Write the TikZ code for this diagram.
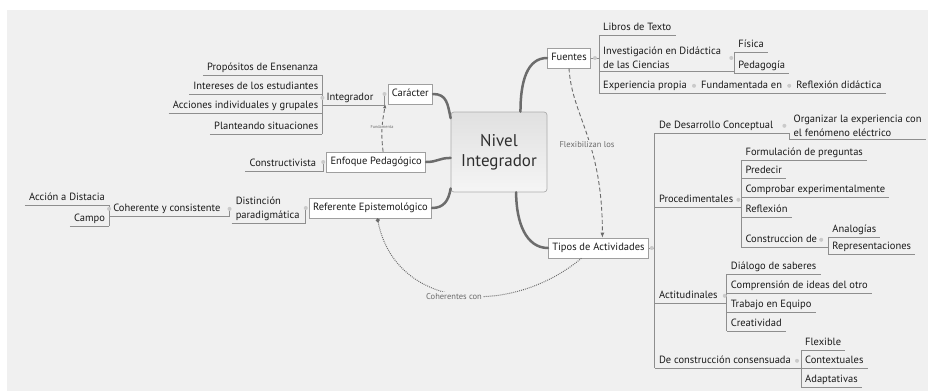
\documentclass[tikz,border=0pt]{standalone}
\usepackage{fontspec}
\setmainfont{PT Sans}
\usepackage{tikz}
\usetikzlibrary{arrows.meta,calc,positioning}
\definecolor{bgc}{HTML}{F0F0F0}
\definecolor{linec}{HTML}{8E8E8E}
\definecolor{trunkc}{HTML}{6C6C6C}
\definecolor{txtc}{HTML}{1A1A1A}
\definecolor{knobc}{HTML}{CACACA}
\definecolor{relc}{HTML}{6A6A6A}
\tikzset
{
  uline/.style={draw=linec,line width=.8pt},
  topic/.style={font=\fontsize{10.5}{12.6}\selectfont,text=txtc,inner xsep=4pt,inner ysep=2pt,
    text height=1.55ex,text depth=.45ex,
    append after command={(\tikzlastnode.south west) edge[uline] (\tikzlastnode.south east)}},
  topictwo/.style={font=\fontsize{10.5}{14}\selectfont,text=txtc,inner xsep=4pt,inner ysep=2pt,align=left,
    append after command={(\tikzlastnode.south west) edge[uline] (\tikzlastnode.south east)}},
  box/.style={draw=gray!75,fill=white,line width=.6pt,font=\fontsize{10.5}{12.6}\selectfont,text=txtc,
    inner xsep=4pt,minimum height=20pt,text height=1.55ex,text depth=.45ex},
  hub/.style={draw=gray!65,line width=.7pt,rounded corners=3pt,top color=black!12,bottom color=black!4,
    minimum width=96pt,minimum height=80pt,align=center,font=\fontsize{17}{20}\selectfont,text=black!82},
  trunk/.style={draw=trunkc,line width=2.5pt,line cap=round},
  knob/.style={circle,fill=knobc,inner sep=0pt,minimum size=4pt},
  rel/.style={draw=relc,line width=.9pt,dash pattern=on 4pt off 2.5pt},
  assoc/.style={draw=relc,line width=1pt,dash pattern=on .9pt off 1.1pt},
  lbl/.style={fill=bgc,text=relc,font=\fontsize{8.5}{10}\selectfont,inner sep=1.5pt},
  lbltiny/.style={fill=bgc,text=relc,font=\fontsize{4.3}{5}\selectfont,inner sep=.8pt}
}

\begin{document}
\begin{tikzpicture}[x=1pt,y=-1pt]
        % Frame
        \useasboundingbox (0,0) rectangle (928,391);
        \fill[white] (0,0) rectangle (928,391);
        \fill[bgc] (7,10) rectangle (928,391);

        % Central topic
        \node[hub] (nivel) at (499,152) {Nivel\\Integrador};

        % Main branches
        \node[box,anchor=east] (caracter) at (433,94) {Carácter};
        \node[box,anchor=east] (enfoque) at (426,162) {Enfoque Pedagógico};
        \node[box,anchor=east] (referente) at (432,208) {Referente Epistemológico};
        \node[box,anchor=west] (fuentes) at (547,58) {Fuentes};
        \node[box,anchor=west] (tipos) at (548,248) {Tipos de Actividades};

        \draw[trunk] (caracter.east) .. controls +(14,0) and +(-3,-14) .. (nivel.145);
        \draw[trunk] (enfoque.east) .. controls +(12,0) and +(-12,0) .. (nivel.187);
        \draw[trunk] (referente.east) .. controls +(12,0) and +(-2,12) .. (nivel.217);
        \draw[trunk] (fuentes.west) .. controls +(-20,0) and +(0,-30) .. (nivel.62);
        \draw[trunk] (tipos.west) .. controls +(-22,0) and +(0,30) .. (nivel.293);

        % Caracter
        \node[topic,anchor=south east] (integ) at ([xshift=-10pt]caracter.west |- 0,105) {Integrador};
        \node[topic,anchor=south east] (propos) at (integ.south west |- 0,75) {Propósitos de Ensenanza};
        \node[topic,anchor=south east] (inter) at (integ.south west |- 0,94) {Intereses de los estudiantes};
        \node[topic,anchor=south east] (acciones) at (integ.south west |- 0,113) {Acciones individuales y grupales};
        \node[topic,anchor=south east] (plante) at (integ.south west |- 0,134) {Planteando situaciones};
        \draw[uline] (propos.south east) -- (plante.south east);
        \draw[uline] ([xshift=-3pt]caracter.west) |- (integ.south east);
        \node[knob] (cknob) at ([xshift=-3pt]caracter.west) {};
        \node[knob] (iknob) at (integ.west) {};

        % Enfoque
        \node[topic,anchor=south east] (constr) at ([xshift=-6pt]enfoque.west |- 0,171) {Constructivista};
        \draw[uline] ([xshift=-3pt]enfoque.west) |- (constr.south east);
        \node[knob] (eknob) at ([xshift=-3pt]enfoque.west) {};

        % Referente
        \node[topictwo,anchor=south east] (distin) at ([xshift=-5pt]referente.west |- 0,223) {Distinción\\paradigmática};
        \node[topic,anchor=south east] (coher) at ([xshift=-7pt]distin.west |- 0,216) {Coherente y consistente};
        \node[topic,anchor=south east] (accion) at (coher.south west |- 0,205) {Acción a Distacia};
        \node[topic,anchor=south east] (campo) at (coher.south west |- 0,226) {Campo};
        \draw[uline] (accion.south east) -- (campo.south east);
        \draw[uline] ([xshift=-2pt]distin.west) |- (coher.south east);
        \draw[uline] ([xshift=-3pt]referente.west) |- (distin.south east);
        \node[knob] (rknob) at ([xshift=-3pt]referente.west) {};
        \node[knob] (dknob) at ([xshift=-2pt]distin.west) {};
        \node[knob] (hknob) at (coher.west) {};

        % Fuentes
        \coordinate (fbr) at ([xshift=8pt]fuentes.east);
        \node[topic,anchor=south west] (libros) at (fbr |- 0,35) {Libros de Texto};
        \node[topictwo,anchor=south west] (invest) at (fbr |- 0,71) {Investigación en Didáctica\\de las Ciencias};
        \node[topic,anchor=south west] (exper) at (fbr |- 0,93) {Experiencia propia};
        \node[topic,anchor=south west] (fundam) at ([xshift=6pt]exper.south east) {Fundamentada en};
        \node[topic,anchor=south west] (reflexd) at ([xshift=6pt]fundam.south east) {Reflexión didáctica};
        \node[topic,anchor=south west] (fisica) at ([xshift=9pt]invest.south east |- 0,52) {Física};
        \node[topic,anchor=south west] (pedago) at (fisica.south west |- 0,73) {Pedagogía};
        \draw[uline] (libros.south west) -- (exper.south west);
        \draw[uline] (fuentes.east) -- (fbr);
        \draw[uline] (exper.south east) -- (fundam.south west);
        \draw[uline] (fundam.south east) -- (reflexd.south west);
        \draw[uline] (invest.south east) -- (fisica.south west |- invest.south east);
        \draw[uline] (fisica.south west) -- (pedago.south west);
        \node[knob] (fknob) at ([xshift=4pt]fuentes.east) {};
        \node[knob] (vknob) at ([xshift=6pt]invest.east) {};
        \node[knob] (xknob) at ([xshift=3pt]exper.east) {};
        \node[knob] (uknob) at ([xshift=3pt]fundam.east) {};

        % Tipos de actividades
        \coordinate (tbr) at ([xshift=6pt]tipos.east);
        \node[topic,anchor=south west] (desconc) at (tbr |- 0,133) {De Desarrollo Conceptual};
        \node[topic,anchor=south west] (proced) at (tbr |- 0,207) {Procedimentales};
        \node[topic,anchor=south west] (actitud) at (tbr |- 0,303) {Actitudinales};
        \node[topic,anchor=south west] (consens) at (tbr |- 0,368) {De construcción consensuada};
        \draw[uline] (desconc.south west) -- (consens.south west);
        \draw[uline] (tipos.east) -- (tbr);
        \node[knob] (tknob) at ([xshift=3pt]tipos.east) {};

        % De desarrollo conceptual
        \node[topictwo,anchor=south west] (organ) at ([xshift=12pt]desconc.south east |- 0,139) {Organizar la experiencia con\\el fenómeno eléctrico};
        \draw[uline] (desconc.south east) -| (organ.south west);
        \node[knob] (oknob) at ([xshift=7pt]desconc.east) {};

        % Procedimentales
        \node[topic,anchor=south west] (formul) at ([xshift=4pt]proced.south east |- 0,160) {Formulación de preguntas};
        \node[topic,anchor=south west] (predec) at (formul.south west |- 0,178) {Predecir};
        \node[topic,anchor=south west] (comprob) at (formul.south west |- 0,197) {Comprobar experimentalmente};
        \node[topic,anchor=south west] (reflex) at (formul.south west |- 0,217) {Reflexión};
        \node[topic,anchor=south west] (constde) at (formul.south west |- 0,247) {Construccion de};
        \node[topic,anchor=south west] (analog) at ([xshift=7pt]constde.south east |- 0,237) {Analogías};
        \node[topic,anchor=south west] (repres) at (analog.south west |- 0,254) {Representaciones};
        \draw[uline] (formul.south west) -- (constde.south west);
        \draw[uline] (proced.south east) -- (formul.south west |- proced.south east);
        \draw[uline] (analog.south west) -- (repres.south west);
        \draw[uline] (constde.south east) -- (analog.south west |- constde.south east);
        \node[knob] (pknob) at ([xshift=1pt]proced.east) {};
        \node[knob] (sknob) at (constde.east) {};

        % Actitudinales
        \node[topic,anchor=south west] (dialog) at ([xshift=5pt]actitud.south east |- 0,274) {Diálogo de saberes};
        \node[topic,anchor=south west] (compren) at (dialog.south west |- 0,293) {Comprensión de ideas del otro};
        \node[topic,anchor=south west] (trabajo) at (dialog.south west |- 0,312) {Trabajo en Equipo};
        \node[topic,anchor=south west] (creativ) at (dialog.south west |- 0,331) {Creatividad};
        \draw[uline] (dialog.south west) -- (creativ.south west);
        \draw[uline] (actitud.south east) -- (dialog.south west |- actitud.south east);
        \node[knob] (aknob) at ([xshift=3pt]actitud.east) {};

        % De construccion consensuada
        \node[topic,anchor=south west] (flexib) at ([xshift=6pt]consens.south east |- 0,350) {Flexible};
        \node[topic,anchor=south west] (context) at (flexib.south west |- 0,368) {Contextuales};
        \node[topic,anchor=south west] (adapt) at (flexib.south west |- 0,387) {Adaptativas};
        \draw[uline] (flexib.south west) -- (adapt.south west);
        \draw[uline] (consens.south east) -- (flexib.south west |- consens.south east);
        \node[knob] (nknob) at ([xshift=2pt]consens.east) {};

        % Relations
        \draw[rel,-{Latex[length=4pt,width=3.5pt]}] ([xshift=7pt]enfoque.north) .. controls +(-3,-24) and +(-2,14) .. ([xshift=-25pt]caracter.south);
        \node[lbltiny] (lfund) at (382,127) {Fundamenta};
        \draw[rel,-{Latex[length=5pt,width=4pt]}] (fuentes.south) .. controls +(3,48) and +(0,-97) .. ([xshift=4pt]tipos.north);
        \node[lbl] (lflex) at (587,145) {Flexibilizan los};
        \draw[assoc,{Circle[length=4pt,sep=0pt]}-] ([xshift=7pt]referente.south) .. controls +(18,91) and +(-72,60) .. ([xshift=-17pt]tipos.south);
        \node[lbl] (lcoher) at (454,297) {Coherentes con};
    \end{tikzpicture}
\end{document}
